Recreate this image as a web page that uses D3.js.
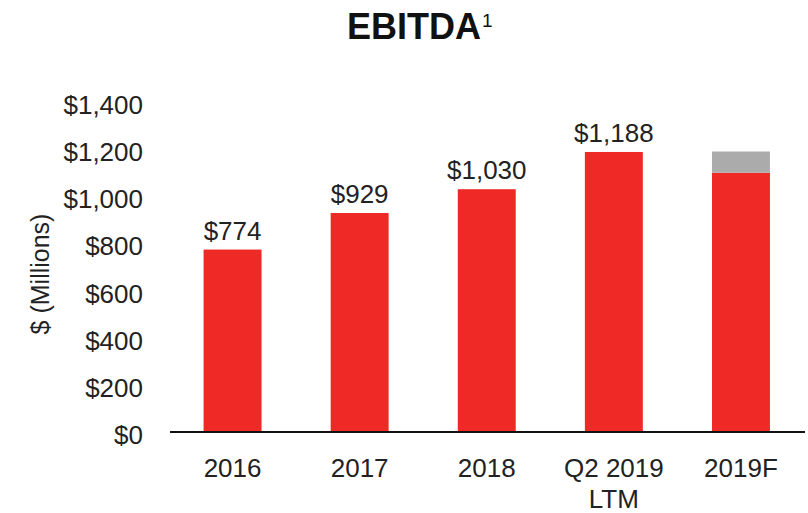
<!DOCTYPE html>
<html>
<head>
<meta charset="utf-8">
<script src="https://cdn.jsdelivr.net/npm/d3@7"></script>
<style>
  body { margin: 0; background: #fff; }
  text { font-family: "Liberation Sans", Arial, sans-serif; fill: #222; }
</style>
</head>
<body>
<svg width="808" height="513"></svg>
<script>
  // chart data
  let categories = ['2016', '2017', '2018', 'Q2 2019|LTM', '2019F'];
  let baseValues = [774, 929, 1030, 1188, 1100];
  let rangeValues = [0, 0, 0, 0, 90];
  let valueLabels = ['$774', '$929', '$1,030', '$1,188', ''];
  let yTicks = [0, 200, 400, 600, 800, 1000, 1200, 1400];

  let svg = d3.select('svg');

  let x = d3.scaleBand()
    .domain(categories)
    .range([169, 804.5])
    .paddingInner(0.544)
    .paddingOuter(0.272);

  let y = d3.scaleLinear()
    .domain([0, 1400])
    .range([432, 102]);

  // title
  let title = svg.append('text')
    .attr('x', 347)
    .attr('y', 39)
    .style('font-size', '36px')
    .style('font-weight', 'bold')
    .style('fill', '#111');
  title.append('tspan').text('EBITDA');
  title.append('tspan')
    .attr('dx', 1)
    .attr('dy', -12)
    .style('font-size', '19px')
    .style('font-weight', 'normal')
    .text('1');

  // y axis (labels only)
  let yAxis = svg.append('g')
    .attr('transform', 'translate(143,0)')
    .call(d3.axisLeft(y)
      .tickValues(yTicks)
      .tickSize(0)
      .tickPadding(0)
      .tickFormat(function(d) { return '$' + d3.format(',')(d); }));
  yAxis.select('.domain').remove();
  yAxis.selectAll('text')
    .attr('dy', '0.44em')
    .style('font-size', '26px')
    .style('font-family', '"Liberation Sans", Arial, sans-serif')
    .attr('fill', '#222');

  svg.append('text')
    .attr('transform', 'translate(49,274) rotate(-90)')
    .attr('text-anchor', 'middle')
    .style('font-size', '25px')
    .text('$ (Millions)');

  // bars
  svg.append('g')
    .selectAll('rect')
    .data(categories)
    .enter().append('rect')
    .attr('x', function(d) { return x(d); })
    .attr('width', x.bandwidth())
    .attr('y', function(d, i) { return y(baseValues[i]); })
    .attr('height', function(d, i) { return y(0) - y(baseValues[i]); })
    .attr('fill', '#ee2926');

  svg.append('g')
    .selectAll('rect')
    .data(categories.filter(function(d, i) { return rangeValues[i] > 0; }))
    .enter().append('rect')
    .attr('x', function(d) { return x(d); })
    .attr('width', x.bandwidth())
    .attr('y', function(d) {
      let i = categories.indexOf(d);
      return y(baseValues[i] + rangeValues[i]);
    })
    .attr('height', function(d) {
      let i = categories.indexOf(d);
      return y(baseValues[i]) - y(baseValues[i] + rangeValues[i]);
    })
    .attr('fill', '#ababab');

  // value labels
  svg.append('g')
    .selectAll('text')
    .data(categories)
    .enter().append('text')
    .attr('x', function(d) { return x(d) + x.bandwidth() / 2; })
    .attr('y', function(d, i) { return y(baseValues[i]) - 10; })
    .attr('text-anchor', 'middle')
    .style('font-size', '26px')
    .text(function(d, i) { return valueLabels[i]; });

  // x axis
  svg.append('line')
    .attr('x1', 170)
    .attr('x2', 805)
    .attr('y1', y(0))
    .attr('y2', y(0))
    .attr('stroke', '#111')
    .attr('stroke-width', 2);

  let xLabels = svg.append('g')
    .selectAll('text')
    .data(categories)
    .enter().append('text')
    .attr('x', function(d) { return x(d) + x.bandwidth() / 2; })
    .attr('y', 477)
    .attr('text-anchor', 'middle')
    .style('font-size', '26px');
  xLabels.each(function(d) {
    let lines = d.split('|');
    let t = d3.select(this);
    lines.forEach(function(line, k) {
      t.append('tspan')
        .attr('x', t.attr('x'))
        .attr('dy', k === 0 ? 0 : 31)
        .text(line);
    });
  });
</script>
</body>
</html>
